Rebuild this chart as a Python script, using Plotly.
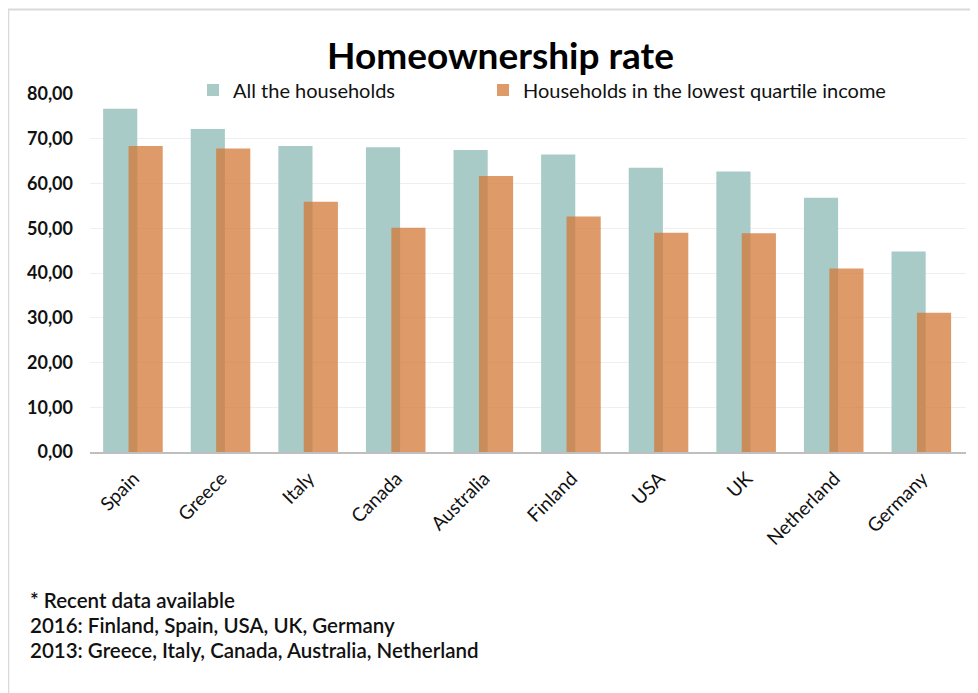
import plotly.graph_objects as go

countries = ["Spain", "Greece", "Italy", "Canada", "Australia", "Finland", "USA", "UK", "Netherland", "Germany"]
all_households = [76.7, 72.2, 68.4, 68.1, 67.5, 66.5, 63.5, 62.7, 56.8, 44.8]
lowest_quartile = [68.4, 67.8, 55.9, 50.1, 61.7, 52.6, 49.0, 48.9, 41.0, 31.1]
y_ticks = [0, 10, 20, 30, 40, 50, 60, 70, 80]
footnotes = ["* Recent data available",
             "2016: Finland, Spain, USA, UK, Germany",
             "2013: Greece, Italy, Canada, Australia, Netherland"]

# page body adds an 8px offset; work in screenshot coordinates
OFF = 8
W, H = 970, 685
L, R, T = 82, 12, 86
B = H - (452.3 - OFF)
pw, ph = W - L - R, H - T - B

def px_x(x):
    return (x - OFF - L) / pw

def px_y(y):
    return (H - B - (y - OFF)) / ph

FONT = "Lato"

fig = go.Figure()
fig.add_trace(go.Bar(
    x=countries, y=all_households, name="All the households",
    marker=dict(color="#A8CBC8", line=dict(width=0)),
    offset=-0.35, width=0.39, legend="legend",
))
fig.add_trace(go.Bar(
    x=countries, y=lowest_quartile, name="Households in the lowest quartile income",
    marker=dict(color="rgba(211,120,54,0.75)", line=dict(width=0)),
    offset=-0.06, width=0.39, legend="legend2",
))

annotations = [dict(
    text="<b>Homeownership rate</b>", x=px_x(500), y=px_y(54), xref="paper", yref="paper",
    xanchor="center", yanchor="middle", showarrow=False,
    font=dict(family=FONT, size=37, color="#000000"),
)]
for i, line in enumerate(footnotes):
    annotations.append(dict(
        text=line, x=px_x(28), y=px_y(600 + 25 * i), xref="paper", yref="paper",
        xanchor="left", yanchor="middle", showarrow=False,
        font=dict(family=FONT, size=20.5, color="#111111", weight=600),
    ))

legend_common = dict(
    orientation="h", yanchor="middle",
    font=dict(family=FONT, size=20, color="#111111"),
    bgcolor="rgba(0,0,0,0)",
)

fig.update_layout(
    width=W, height=H,
    margin=dict(l=L, r=R, t=T, b=B),
    paper_bgcolor="white", plot_bgcolor="white",
    barmode="overlay",
    separators=",.",
    font=dict(family=FONT, color="#111111"),
    showlegend=True,
    legend=dict(x=px_x(193), y=px_y(90), xanchor="left", **legend_common),
    legend2=dict(x=px_x(483), y=px_y(90), xanchor="left", **legend_common),
    annotations=annotations,
    shapes=[
        dict(type="line", xref="paper", yref="paper", x0=px_x(8), x1=px_x(990),
             y0=px_y(9.5), y1=px_y(9.5), line=dict(color="#DADADA", width=2)),
        dict(type="line", xref="paper", yref="paper", x0=px_x(8.5), x1=px_x(8.5),
             y0=px_y(9.5), y1=px_y(700), line=dict(color="#DADADA", width=1.5)),
    ],
    xaxis=dict(
        tickangle=-45, tickfont=dict(family=FONT, size=19, color="#111111"),
        showline=True, linecolor="#BFBFBF", linewidth=2, showgrid=False,
        ticks="", range=[-0.5, 9.5], ticklabelstandoff=6,
    ),
    yaxis=dict(
        range=[0, 80], tickvals=y_ticks, tickformat=".2f",
        tickfont=dict(family=FONT, size=18, color="#111111", weight="bold"),
        showgrid=True, gridcolor="#EFEFEF", gridwidth=1,
        zeroline=False, showline=False, ticks="", ticklabelstandoff=16,
    ),
)

fig.write_html("out.html")
